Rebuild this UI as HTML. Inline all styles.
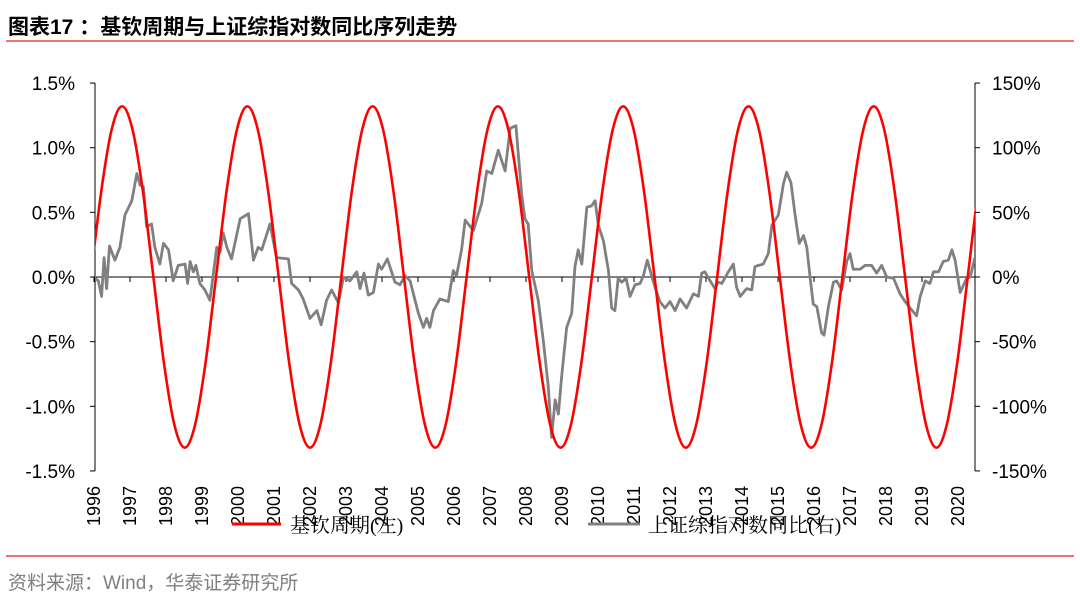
<!DOCTYPE html>
<html><head><meta charset="utf-8">
<style>
body{margin:0;background:#fff;width:1080px;height:596px;overflow:hidden;font-family:"Liberation Sans","Noto Sans CJK SC",sans-serif}
</style></head>
<body>
<svg id="chart" width="1080" height="596" xmlns="http://www.w3.org/2000/svg">
<text x="8" y="34" font-size="21" font-weight="bold" fill="#000" font-family="Liberation Sans, Noto Sans CJK SC, sans-serif">图表17 ：基钦周期与上证综指对数同比序列走势</text>
<line x1="6" y1="41" x2="1074" y2="41" stroke="#e8231f" stroke-width="1.3"/>
<line x1="6" y1="556" x2="1074" y2="556" stroke="#e8231f" stroke-width="1.3"/>
<text x="8" y="589" font-size="19" fill="#7f7f7f" font-family="Liberation Sans, Noto Sans CJK SC, sans-serif">资料来源：Wind，华泰证券研究所</text>
<defs><clipPath id="plotclip"><rect x="95" y="60" width="880" height="430"/></clipPath></defs>
<g id="axes"></g>
<g id="series" clip-path="url(#plotclip)"></g>
<g id="legend"></g>
</svg>
<script>
// data
const yearTicks = [1996,1997,1998,1999,2000,2001,2002,2003,2004,2005,2006,2007,2008,2009,2010,2011,2012,2013,2014,2015,2016,2017,2018,2019,2020];
const leftTicks = [1.5,1.0,0.5,0.0,-0.5,-1.0,-1.5];
const leftTickLabels = ["1.5%","1.0%","0.5%","0.0%","-0.5%","-1.0%","-1.5%"];
const rightTicks = [150,100,50,0,-50,-100,-150];
const rightTickLabels = ["150%","100%","50%","0%","-50%","-100%","-150%"];
// Kitchin cycle (left axis, %), sampled from 1995.91 every 0.29 years
const kitchinStart = 1995.91;
const kitchinStep = 0.29;
const kitchinValues = [0,0.66,1.14,1.32,1.14,0.66,0,-0.66,-1.14,-1.32,-1.14,-0.66,
0,0.66,1.14,1.32,1.14,0.66,0,-0.66,-1.14,-1.32,-1.14,-0.66,
0,0.66,1.14,1.32,1.14,0.66,0,-0.66,-1.14,-1.32,-1.14,-0.66,
0,0.66,1.14,1.32,1.14,0.66,0,-0.66,-1.14,-1.32,-1.14,-0.66,
0,0.66,1.14,1.32,1.14,0.66,0,-0.66,-1.14,-1.32,-1.14,-0.66,
0,0.66,1.14,1.32,1.14,0.66,0,-0.66,-1.14,-1.32,-1.14,-0.66,
0,0.66,1.14,1.32,1.14,0.66,0,-0.66,-1.14,-1.32,-1.14,-0.66,
0,0.66,1.14];
// SSE log YoY (right axis, %)
const sseDates = [1996.0,1996.12,1996.21,1996.28,1996.35,1996.43,1996.58,1996.72,1996.86,1997.05,1997.19,1997.28,1997.37,1997.46,1997.6,1997.69,1997.83,1997.93,1998.07,1998.2,1998.34,1998.53,1998.6,1998.67,1998.76,1998.83,1998.94,1999.08,1999.22,1999.41,1999.5,1999.59,1999.69,1999.82,2000.06,2000.29,2000.43,2000.56,2000.66,2000.89,2001.07,2001.4,2001.49,2001.68,2001.81,2002.0,2002.19,2002.31,2002.46,2002.6,2002.79,2002.93,2003.11,2003.3,2003.39,2003.5,2003.62,2003.76,2003.9,2003.99,2004.15,2004.36,2004.5,2004.64,2004.78,2005.01,2005.15,2005.24,2005.33,2005.43,2005.61,2005.84,2005.98,2006.07,2006.21,2006.31,2006.54,2006.77,2006.91,2007.05,2007.23,2007.42,2007.56,2007.72,2007.88,2007.97,2008.06,2008.16,2008.34,2008.48,2008.62,2008.71,2008.81,2008.9,2008.99,2009.13,2009.27,2009.36,2009.45,2009.55,2009.69,2009.82,2009.92,2010.01,2010.15,2010.29,2010.38,2010.47,2010.56,2010.66,2010.78,2010.89,2011.03,2011.17,2011.26,2011.37,2011.54,2011.72,2011.86,2012.0,2012.14,2012.28,2012.46,2012.65,2012.79,2012.88,2012.97,2013.07,2013.25,2013.34,2013.44,2013.62,2013.76,2013.85,2013.95,2014.13,2014.27,2014.36,2014.46,2014.59,2014.73,2014.83,2015.01,2015.15,2015.24,2015.36,2015.47,2015.59,2015.71,2015.8,2015.89,2015.98,2016.08,2016.21,2016.28,2016.4,2016.54,2016.63,2016.77,2016.91,2017.0,2017.09,2017.28,2017.42,2017.6,2017.74,2017.88,2018.02,2018.21,2018.39,2018.53,2018.67,2018.85,2018.95,2019.09,2019.22,2019.32,2019.46,2019.59,2019.73,2019.83,2019.92,2020.06,2020.24,2020.34,2020.47];
const sseValues = [0,-3,-15,15,-9,24,13,23,48,59,80,71,70,39,41,23,10,26,21,-3,9,10,-5,12,4,9,-5,-10,-18,23,19,34,23,14,45,49,13,23,21,41,15,14,-5,-10,-17,-32,-26,-37,-18,-10,-20,0,-3,4,-9,3,-14,-12,10,6,14,-4,-6,1,-3,-28,-39,-32,-39,-26,-17,-19,5,1,21,44,36,57,82,80,98,82,115,117,64,45,41,5,-18,-49,-85,-124,-95,-106,-77,-39,-28,8,21,10,54,55,59,40,28,5,-24,-26,-1,-4,-1,-15,-6,-5,1,13,-4,-19,-24,-19,-26,-17,-24,-13,-15,3,4,-1,-9,-4,-5,4,10,-8,-15,-9,-10,8,9,10,18,40,48,72,81,73,49,26,32,23,0,-21,-23,-43,-45,-23,-4,-3,-10,12,18,6,6,9,9,3,9,0,-1,-13,-19,-24,-30,-15,-3,-5,4,4,12,13,21,13,-12,-1,0,15];

const NS="http://www.w3.org/2000/svg";
const X0=94, PXY=36, Y0=277, LPX=129.3, RPX=1.293;
const xScale=t=>X0+(t-1996)*PXY;
const yLeft=v=>Y0-v*LPX;
const yRight=v=>Y0-v*RPX;
function mk(tag,attrs,parent){const e=document.createElementNS(NS,tag);for(const k in attrs)e.setAttribute(k,attrs[k]);parent.appendChild(e);return e;}
const axes=document.getElementById('axes'), series=document.getElementById('series'), legend=document.getElementById('legend');
const font='Liberation Sans, Noto Sans CJK SC, sans-serif';

let la=mk('line',{x1:95,y1:yLeft(1.5),x2:95,y2:yLeft(-1.5),stroke:'#000','stroke-width':1},axes);


let ra=mk('line',{x1:975,y1:yRight(150),x2:975,y2:yRight(-150),stroke:'#000','stroke-width':1},axes);


let za=mk('line',{x1:95,y1:Y0,x2:975,y2:Y0,stroke:'#000','stroke-width':1},axes);



leftTicks.forEach((v,i)=>{
  const y=yLeft(v);
  const t=mk('line',{x1:90,y1:y,x2:95,y2:y,stroke:'#000'},axes);
  
  
  const tx=mk('text',{x:75,y:y+7,'font-size':19,'text-anchor':'end','font-family':font},axes);
  tx.textContent=leftTickLabels[i];
  
  
});
rightTicks.forEach((v,i)=>{
  const y=yRight(v);
  const t=mk('line',{x1:975,y1:y,x2:980,y2:y,stroke:'#000'},axes);
  
  
  const tx=mk('text',{x:992,y:y+7,'font-size':19,'text-anchor':'start','font-family':font},axes);
  tx.textContent=rightTickLabels[i];
  
  
});
yearTicks.forEach(yr=>{
  const x=xScale(yr);
  const t=mk('line',{x1:x,y1:Y0,x2:x,y2:Y0+5,stroke:'#000'},axes);
  
  
  const tx=mk('text',{x:0,y:0,'font-size':18,'text-anchor':'end','font-family':font,transform:`translate(${x+6},486) rotate(-90)`},axes);
  tx.textContent=String(yr);
  
  
});

// Kitchin smooth curve (Catmull-Rom)
const kp=kitchinValues.map((v,i)=>[xScale(kitchinStart+i*kitchinStep),yLeft(v)]);
let d=`M${kp[0][0]},${kp[0][1]}`;
for(let i=0;i<kp.length-1;i++){
  const p0=kp[Math.max(0,i-1)],p1=kp[i],p2=kp[i+1],p3=kp[Math.min(kp.length-1,i+2)];
  const c1=[p1[0]+(p2[0]-p0[0])/6,p1[1]+(p2[1]-p0[1])/6];
  const c2=[p2[0]-(p3[0]-p1[0])/6,p2[1]-(p3[1]-p1[1])/6];
  d+=` C${c1[0]},${c1[1]} ${c2[0]},${c2[1]} ${p2[0]},${p2[1]}`;
}
const sseD=sseValues.map((v,i)=>(i?'L':'M')+xScale(sseDates[i])+','+yRight(v)).join(' ');
const g=mk('path',{d:sseD,fill:'none',stroke:'#808080','stroke-width':2.8,'stroke-linejoin':'round'},series);


const r=mk('path',{d:d,fill:'none',stroke:'#ff0000','stroke-width':2.6},series);



// legend
const l1=mk('line',{x1:232,y1:524,x2:281,y2:524,stroke:'#ff0000','stroke-width':3},legend);


const t1=mk('text',{x:290,y:532,'font-size':20,'font-family':'Liberation Serif, Noto Serif CJK SC, serif'},legend);
t1.textContent='基钦周期(左)';


const l2=mk('line',{x1:588,y1:524,x2:640,y2:524,stroke:'#808080','stroke-width':3},legend);


const t2=mk('text',{x:648,y:532,'font-size':20,'font-family':'Liberation Serif, Noto Serif CJK SC, serif'},legend);
t2.textContent='上证综指对数同比(右)';


</script>
</body></html>
